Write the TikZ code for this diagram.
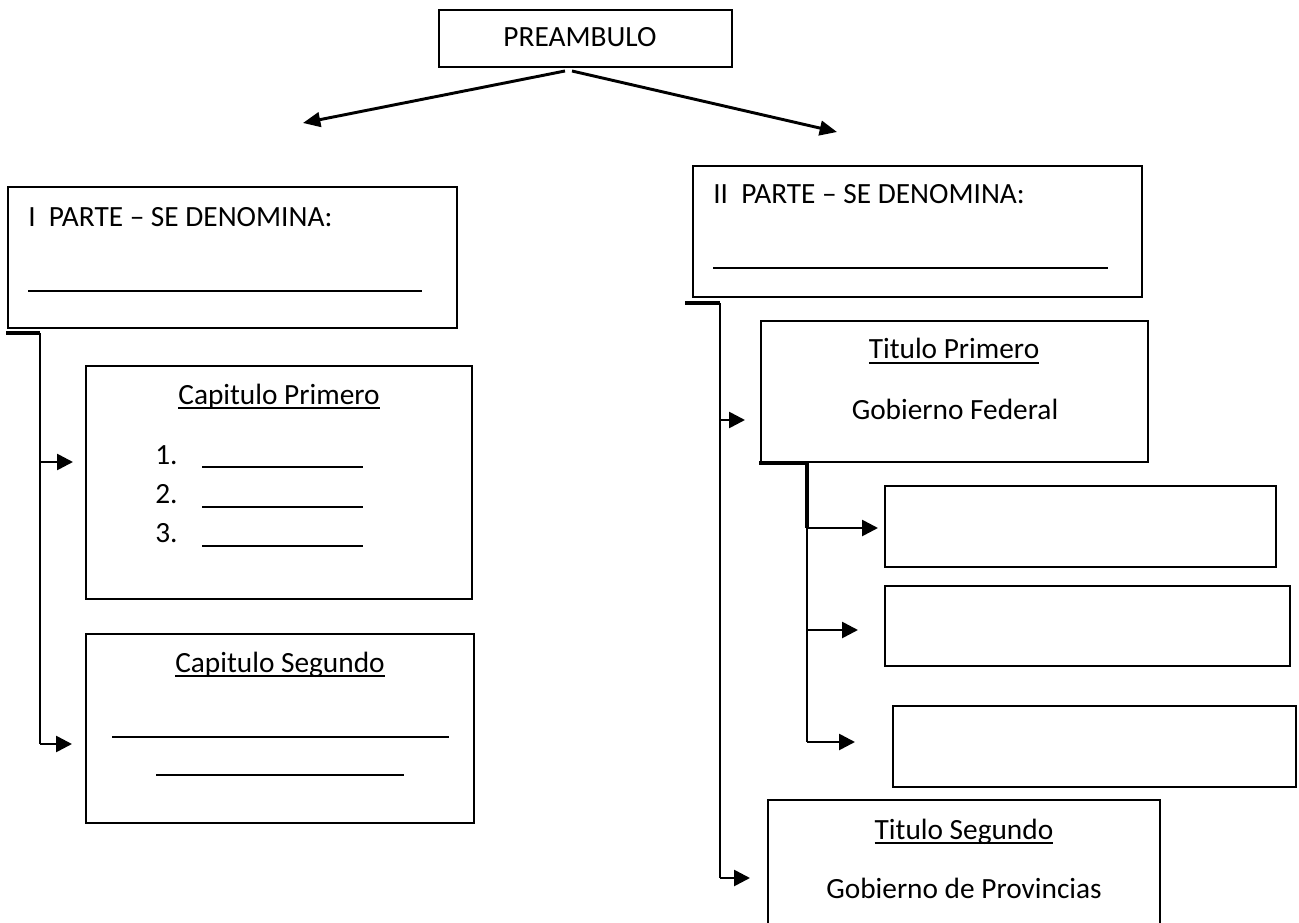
\documentclass[tikz,border=0pt]{standalone}
\usepackage{fontspec}
\setmainfont{Carlito}
\usetikzlibrary{arrows.meta,fit}
\newcommand\ulx[1]{\leavevmode\setbox0=\hbox{#1}\rlap{\vrule width\wd0 height -2.2pt depth 3.4pt}\box0}
\begin{document}
\begin{tikzpicture}[x=0.75pt,y=-0.75pt,
  box/.style={draw,line width=1.5pt,inner sep=0pt},
  txt/.style={inner sep=0pt,font=\fontsize{22}{26}\selectfont},
  blank/.style={line width=1.2pt},
  link/.style={line width=2pt},
  heavy/.style={line width=3pt},
  arr/.style={line width=2pt,-{Triangle[length=12pt,width=12pt]}},
  toparr/.style={line width=2.2pt,-{Triangle[length=13pt,width=11pt]}}]
\useasboundingbox (0,0) rectangle (1299,923);
% boxes
\node[box,fit={(439,10)(732,67)}] (pre) {};
\node[box,fit={(8,187)(457,328)}] (p1) {};
\node[box,fit={(86,366)(472,599)}] (c1) {};
\node[box,fit={(86,634)(474,823)}] (c2) {};
\node[box,fit={(693,166)(1142,297)}] (p2) {};
\node[box,fit={(761,321)(1148,462)}] (t1) {};
\node[box,fit={(885,486)(1276,567)}] (b1) {};
\node[box,fit={(885,586)(1290,666)}] (b2) {};
\node[box,fit={(893,706)(1296,787)}] (b3) {};
\node[box,fit={(768,800)(1160,945)}] (t2) {};
% texts
\node[txt,anchor=base] (preT) at (580,47) {PREAMBULO};
\node[txt,anchor=base west] (p1T) at (28,227) {I\ \ PARTE – SE DENOMINA:};
\node[txt,anchor=base west] (p2T) at (713,204) {II\ \ PARTE – SE DENOMINA:};
\node[txt,anchor=base] (c1T) at (279,404) {\ulx{Capitulo Primero}};
\node[txt,anchor=base west] (n1) at (155,464) {1.};
\node[txt,anchor=base west] (n2) at (155,503) {2.};
\node[txt,anchor=base west] (n3) at (155,542) {3.};
\node[txt,anchor=base] (c2T) at (280,672) {\ulx{Capitulo Segundo}};
\node[txt,anchor=base] (t1T) at (954,359) {\ulx{Titulo Primero}};
\node[txt,anchor=base] (t1S) at (955,419) {Gobierno Federal};
\node[txt,anchor=base] (t2T) at (964,839) {\ulx{Titulo Segundo}};
\node[txt,anchor=base] (t2S) at (964,898) {Gobierno de Provincias};
% blank lines
\draw[blank] (28,291) -- (422,291);
\draw[blank] (713,268) -- (1108,268);
\draw[blank] (202,467) -- (363,467);
\draw[blank] (202,507) -- (363,507);
\draw[blank] (202,546) -- (363,546);
\draw[blank] (112,737) -- (449,737);
\draw[blank] (156,775) -- (404,775);
% top arrows
\coordinate (preL) at (565,71);
\coordinate (preR) at (572,71);
\coordinate (tipL) at (303,123);
\coordinate (tipR) at (837,132);
\draw[toparr] (preL) -- (tipL);
\draw[toparr] (preR) -- (tipR);
% left tree
\coordinate (l0) at (6,333);
\coordinate (l1) at (40,333);
\coordinate (l2) at (40,462);
\coordinate (l3) at (40,744);
\coordinate (l2t) at (73,462);
\coordinate (l3t) at (72,744);
\draw[heavy] (l0) -- (l1);
\draw[link] (l1) -- (l3);
\draw[arr] (l2) -- (l2t);
\draw[arr] (l3) -- (l3t);
% right tree
\coordinate (r0) at (685,303);
\coordinate (r1) at (720,303);
\coordinate (r2) at (720,420);
\coordinate (r3) at (720,878);
\coordinate (r2t) at (745,420);
\coordinate (r3t) at (750,878);
\draw[heavy] (r0) -- (r1);
\draw[link] (r1) -- (r3);
\draw[arr] (r2) -- (r2t);
\draw[arr] (r3) -- (r3t);
% sub tree
\coordinate (s0) at (759,463);
\coordinate (s1) at (807,463);
\coordinate (s2) at (807,528);
\coordinate (s3) at (807,630);
\coordinate (s4) at (807,742);
\coordinate (s2t) at (878,528);
\coordinate (s3t) at (858,630);
\coordinate (s4t) at (855,742);
\draw[heavy] (s0) -- (s1);
\draw[line width=3.5pt] (s1) -- (s2);
\draw[line width=2.2pt] (s2) -- (s4);
\draw[arr] (s2) -- (s2t);
\draw[arr] (s3) -- (s3t);
\draw[arr] (s4) -- (s4t);
\end{tikzpicture}
\end{document}
